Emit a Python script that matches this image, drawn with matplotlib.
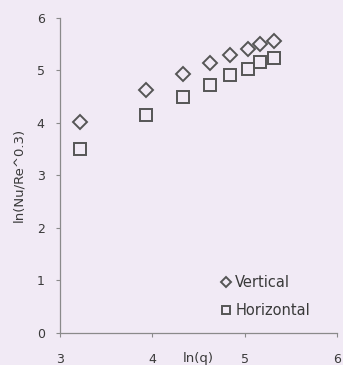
import matplotlib
matplotlib.use("Agg")
import matplotlib.pyplot as plt

ln_q = [3.22, 3.93, 4.33, 4.62, 4.84, 5.03, 5.17, 5.32]
vertical = [4.02, 4.62, 4.92, 5.14, 5.29, 5.41, 5.49, 5.55]
horizontal = [3.50, 4.14, 4.48, 4.72, 4.90, 5.02, 5.15, 5.23]
xticks = [3, 4, 5, 6]
yticks = [0, 1, 2, 3, 4, 5, 6]

bg = "#f1eaf5"
plt.rcParams['font.family'] = ['DejaVu Sans']

fig = plt.figure(figsize=(3.43, 3.65), dpi=100, facecolor=bg)
ax = fig.add_axes([0.175, 0.088, 0.808, 0.864], facecolor=bg)

ax.plot(ln_q, vertical, linestyle='none', marker='D', markersize=7.2,
        markerfacecolor='none', markeredgecolor='#555555', markeredgewidth=1.4,
        label='Vertical')
ax.plot(ln_q, horizontal, linestyle='none', marker='s', markersize=8,
        markerfacecolor='none', markeredgecolor='#555555', markeredgewidth=1.4,
        label='Horizontal')

ax.set_xlim(3, 6)
ax.set_ylim(0, 6)
ax.set_xticks(xticks)
ax.set_yticks(yticks)
for s in ['top', 'right']:
    ax.spines[s].set_visible(False)
for s in ['left', 'bottom']:
    ax.spines[s].set_color('#8a8a8a')
    ax.spines[s].set_linewidth(0.9)
ax.tick_params(direction='out', length=3, color='#8a8a8a', labelsize=9,
               labelcolor='#3a3a3a')
ax.tick_params(axis='x', pad=11.5)
ax.tick_params(axis='y', pad=8)

ax.set_ylabel('ln(Nu/Re^0.3)', fontsize=9.5, color='#3a3a3a')
ax.yaxis.set_label_coords(-0.125, 0.5)
ax.text(4.50, -0.36, 'ln(q)', transform=ax.transData, ha='center', va='top',
        fontsize=9.5, color='#3a3a3a')

leg = ax.legend(loc='lower left', bbox_to_anchor=(0.535, 0.006), frameon=False,
                fontsize=10.5, markerscale=0.65, handlelength=0.6, handletextpad=0.35,
                labelspacing=0.89, labelcolor='#3a3a3a')

fig.savefig('out.png', dpi=100, facecolor=bg)
